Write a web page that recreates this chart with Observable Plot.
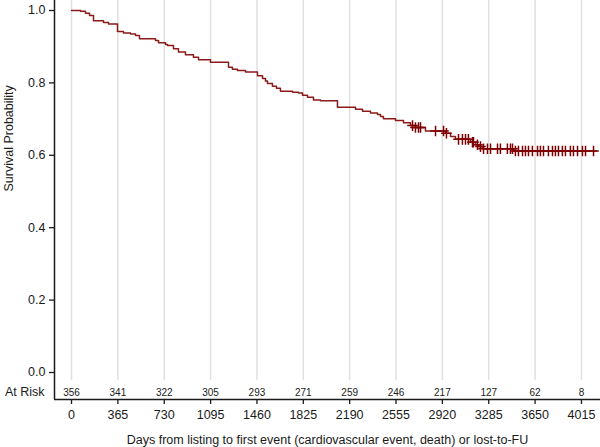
<!DOCTYPE html>
<html><head><meta charset="utf-8">
<script src="https://cdn.jsdelivr.net/npm/d3@7"></script>
<script src="https://cdn.jsdelivr.net/npm/@observablehq/plot@0.6"></script>
<style>body{margin:0;background:#fff}</style>
</head><body><div id="chart"></div>
<script>
// Kaplan-Meier steps (day of event, survival after event)
const stepDays = [71,110,142,173,252,291,362,409,464,504,535,661,685,740,756,803,842,897,960,1000,1094,1236,1267,1307,1370,1464,1504,1527,1543,1582,1614,1645,1740,1787,1819,1858,1905,1960,2094,2236,2291,2354,2409,2433,2456,2551,2614,2669,2708,2787,2944,2984,3023,3141,3181,3204,3236,3480];
const stepSurv = [0.998,0.9925,0.986,0.972,0.967,0.963,0.942,0.938,0.935,0.931,0.922,0.917,0.911,0.906,0.903,0.894,0.885,0.878,0.871,0.864,0.857,0.843,0.838,0.834,0.830,0.820,0.812,0.805,0.798,0.791,0.785,0.777,0.774,0.772,0.766,0.760,0.753,0.751,0.733,0.727,0.722,0.717,0.713,0.707,0.701,0.696,0.690,0.682,0.677,0.667,0.661,0.652,0.644,0.636,0.629,0.624,0.618,0.612];
const lastDay = 4133;
// censoring times
const censorDays = [2685,2708,2732,2748,2866,2929,2952,3047,3078,3102,3125,3157,3165,3196,3220,3244,3275,3299,3354,3377,3432,3456,3472,3495,3519,3551,3574,3598,3629,3669,3692,3716,3755,3787,3810,3834,3865,3889,3928,3952,3984,4023,4047,4110];
const xTicks = [0,365,730,1095,1460,1825,2190,2555,2920,3285,3650,4015];
const atRisk = [356,341,322,305,293,271,259,246,217,127,62,8];
const yTicks = [0,0.2,0.4,0.6,0.8,1.0];

function survAt(d){ let s=1; for(let i=0;i<stepDays.length;i++){ if(stepDays[i]<=d) s=stepSurv[i]; } return s; }
const curve = [{day:0,surv:1}].concat(stepDays.map((d,i)=>({day:d,surv:stepSurv[i]})), [{day:lastDay,surv:stepSurv[stepSurv.length-1]}]);
const censors = censorDays.map(d=>({day:d,surv:survAt(d)}));

const xMin=-134, xMax=4165, yMin=-0.0746, yMax=1.0276;
const atRiskY = -0.055, gridBottom = -0.022;
const ink = "#1a1a1a";

const chart = Plot.plot({
  width:600, height:447, marginTop:0, marginBottom:48, marginLeft:54, marginRight:0,
  style:{fontFamily:"'Liberation Sans', Arial, sans-serif", fontSize:"12.5px", color:ink, background:"#fff"},
  x:{domain:[xMin,xMax]},
  y:{domain:[yMin,yMax]},
  marks:[
    Plot.ruleX(xTicks,{x:d=>d, y1:gridBottom, y2:yMax, stroke:"#e0e0e0", strokeWidth:1.5}),
    Plot.axisX({ticks:xTicks, tickFormat:"d", tickSize:5, tickPadding:6, strokeWidth:1.3, label:"Days from listing to first event (cardiovascular event, death) or lost-to-FU", labelAnchor:"center", labelOffset:44, labelArrow:"none", fontSize:12.5}),
    Plot.axisY({ticks:yTicks, tickFormat:".1f", tickSize:5, tickPadding:4, strokeWidth:1.3, label:null, fontSize:12.5}),
    Plot.ruleX([xMin],{y1:yMin, y2:yMax, stroke:ink, strokeWidth:1.5}),
    Plot.ruleY([yMin],{x1:xMin, x2:xMax, stroke:ink, strokeWidth:1.5}),
    Plot.text(xTicks,{x:d=>d, y:atRiskY, text:(d,i)=>String(atRisk[i]), fontSize:10, fill:ink}),
    Plot.text(["At Risk"],{x:xMin, y:atRiskY, text:d=>d, textAnchor:"end", dx:-10, fontSize:12.5, fill:ink}),
    Plot.text(["Survival Probability"],{frameAnchor:"left", y:0.5, text:d=>d, rotate:-90, dx:-46, fontSize:12.5, fill:ink}),
    Plot.line(curve,{x:"day", y:"surv", curve:"step-after", stroke:"#8b1a1a", strokeWidth:1.5}),
    Plot.dot(censors,{x:"day", y:"surv", symbol:"plus", r:3.5, stroke:"#7f0000", strokeWidth:1.5})
  ]
});
document.getElementById("chart").appendChild(chart);
</script>
</body></html>
